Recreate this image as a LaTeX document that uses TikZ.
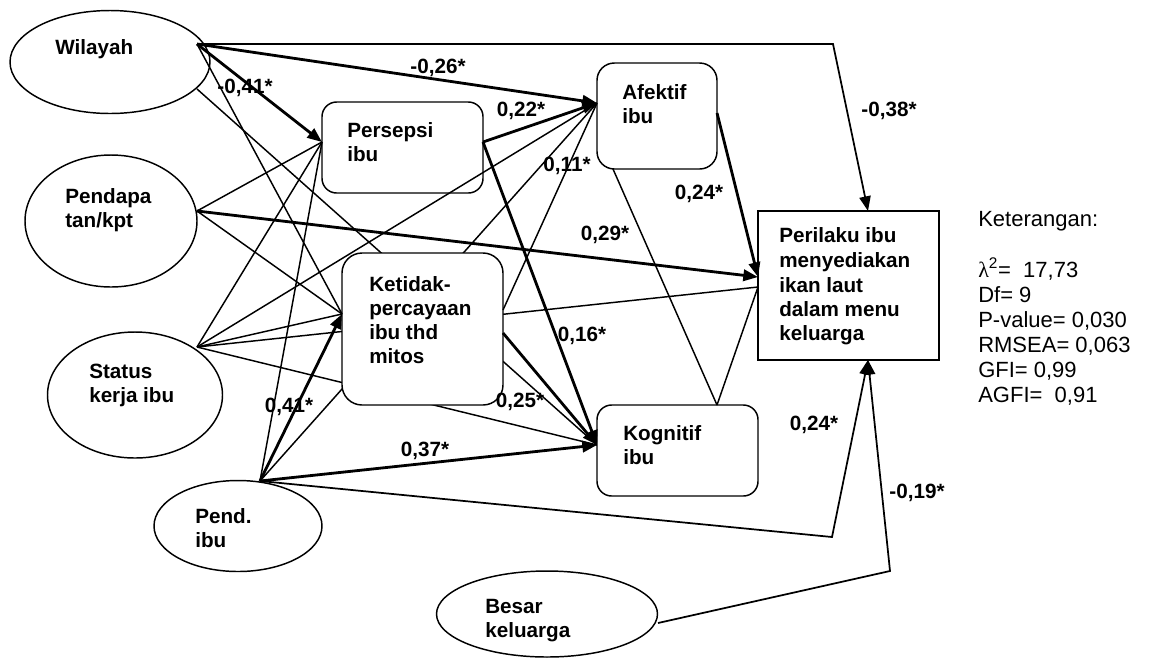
\documentclass[tikz,border=0pt]{standalone}
\usepackage{fontspec}
\setmainfont{Liberation Sans}
\newfontfamily\greekfont{Liberation Serif}
\usetikzlibrary{arrows.meta,shapes.geometric}
\pgfdeclarelayer{bg}
\pgfsetlayers{bg,main}
\begin{document}
\begin{tikzpicture}[x=0.75pt,y=-0.75pt,
  thinl/.style={line width=1.1pt},
  thickl/.style={line width=2.1pt,-{Triangle[length=11pt,width=8.5pt]}},
  medl/.style={line width=1.3pt,-{Triangle[length=11pt,width=8.5pt]}},
  ell/.style={ellipse,draw,line width=1.1pt,fill=white,inner sep=0pt,outer sep=0pt},
  rbox/.style={rectangle,draw,line width=1.1pt,fill=white,rounded corners=11pt,inner sep=0pt,outer sep=0pt},
  sbox/.style={rectangle,draw,line width=1.1pt,fill=white,inner sep=0pt,outer sep=0pt},
  txt/.style={anchor=base west,inner sep=0pt,font=\bfseries\fontsize{15.5}{18}\selectfont},
  lbl/.style={anchor=base,inner sep=0pt,font=\bfseries\fontsize{15.5}{18}\selectfont},
  keyt/.style={anchor=base west,inner sep=0pt,font=\fontsize{16.5}{20}\selectfont}]
\useasboundingbox (0,0) rectangle (1152,662);

% anchor points
\coordinate (wil-o) at (197,44);
\coordinate (wil-p) at (197,89);
\coordinate (pen-o) at (197,211);
\coordinate (sta-o) at (197,347);
\coordinate (edu-o) at (260,481);
\coordinate (bes-o) at (658,623);
\coordinate (per-i) at (322,142);
\coordinate (per-o) at (483,142);
\coordinate (afe-i) at (597,103);
\coordinate (afe-r) at (717,113);
\coordinate (afe-b) at (613,169);
\coordinate (ket-i) at (342,314);
\coordinate (ket-o) at (503,333);
\coordinate (ket-a) at (503,310);
\coordinate (kog-i) at (597,445);
\coordinate (kog-t) at (717,405);
\coordinate (pri-a) at (758,277);
\coordinate (pri-t) at (758,287);
\coordinate (pri-top) at (868,211);
\coordinate (pri-bot) at (868,360);
\coordinate (c1) at (833,44);
\coordinate (c2) at (832,537);
\coordinate (c3) at (890,571);

% shapes
\node[ell,minimum width=150pt,minimum height=77.25pt] (wil) at (110,62) {};
\node[ell,minimum width=129pt,minimum height=99pt] (pen) at (111,221) {};
\node[ell,minimum width=131.25pt,minimum height=94.5pt] (sta) at (135,395) {};
\node[ell,minimum width=126pt,minimum height=68.25pt] (edu) at (238,526) {};
\node[ell,minimum width=165.75pt,minimum height=64.5pt] (bes) at (547,614) {};
\node[rbox,minimum width=120.75pt,minimum height=68.25pt] (per) at (402.5,147.5) {};
\node[rbox,minimum width=90pt,minimum height=79.5pt,rounded corners=13pt] (afe) at (657,116) {};
\node[rbox,minimum width=120.75pt,minimum height=114pt,rounded corners=15pt] (ket) at (422.5,329) {};
\node[rbox,minimum width=120.75pt,minimum height=68.25pt] (kog) at (677.5,450.5) {};
\node[sbox,minimum width=135.75pt,minimum height=111.75pt] (pri) at (848.5,285.5) {};

% lines hidden behind the Ketidakpercayaan box
\begin{pgfonlayer}{bg}
\draw[thinl] (wil-p) -- (kog-i);
\draw[thinl] (sta-o) -- (pri-t);
\draw[thinl] (sta-o) -- (kog-i);
\draw[thinl] (edu-o) -- (afe-i);
\end{pgfonlayer}

% thin paths
\draw[thinl] (wil-o) -- (ket-i);
\draw[thinl] (pen-o) -- (per-i);
\draw[thinl] (pen-o) -- (ket-i);
\draw[thinl] (sta-o) -- (per-i);
\draw[thinl] (sta-o) -- (afe-i);
\draw[thinl] (sta-o) -- (ket-i);
\draw[thinl] (edu-o) -- (per-i);
\draw[thinl] (ket-a) -- (afe-i);
\draw[thinl] (afe-b) -- (kog-t);
\draw[thinl] (kog-t) -- (pri-t);

% significant paths
\draw[medl] (wil-o) -- (c1) -- (pri-top);
\draw[thickl] (wil-o) -- (afe-i);
\draw[thickl] (wil-o) -- (per-i);
\draw[thickl] (per-o) -- (afe-i);
\draw[thickl] (per-o) -- (kog-i);
\draw[thickl] (pen-o) -- (pri-a);
\draw[thickl] (afe-r) -- (pri-a);
\draw[thickl] (edu-o) -- (ket-i);
\draw[thickl] (edu-o) -- (kog-i);
\draw[thickl] (ket-o) -- (kog-i);
\draw[medl] (edu-o) -- (c2) -- (pri-bot);
\draw[medl] (bes-o) -- (c3) -- (pri-bot);

% node texts
\node[txt] (t-wil) at (55,54) {Wilayah};
\node[txt] (t-pen1) at (65,203) {Pendapa};
\node[txt] (t-pen2) at (65,227) {tan/kpt};
\node[txt] (t-sta1) at (89,378) {Status};
\node[txt] (t-sta2) at (89,402) {kerja ibu};
\node[txt] (t-edu1) at (195,523) {Pend.};
\node[txt] (t-edu2) at (195,547) {ibu};
\node[txt] (t-bes1) at (485,613) {Besar};
\node[txt] (t-bes2) at (485,637) {keluarga};
\node[txt] (t-per1) at (347,137) {Persepsi};
\node[txt] (t-per2) at (347,161) {ibu};
\node[txt] (t-afe1) at (622,99) {Afektif};
\node[txt] (t-afe2) at (622,123) {ibu};
\node[txt] (t-ket1) at (369,291) {Ketidak-};
\node[txt] (t-ket2) at (369,315) {percayaan};
\node[txt] (t-ket3) at (369,339) {ibu thd};
\node[txt] (t-ket4) at (369,363) {mitos};
\node[txt] (t-kog1) at (623,440) {Kognitif};
\node[txt] (t-kog2) at (623,464) {ibu};
\node[txt] (t-pri1) at (779,242) {Perilaku ibu};
\node[txt] (t-pri2) at (779,267) {menyediakan};
\node[txt] (t-pri3) at (779,292) {ikan laut};
\node[txt] (t-pri4) at (779,316) {dalam menu};
\node[txt] (t-pri5) at (779,340) {keluarga};

% coefficients
\node[lbl] (l1) at (438,73) {-0,26*};
\node[lbl] (l2) at (245,93) {-0,41*};
\node[lbl] (l3) at (521,116) {0,22*};
\node[lbl] (l4) at (567,171) {0,11*};
\node[lbl] (l5) at (699,199) {0,24*};
\node[lbl] (l6) at (889,116) {-0,38*};
\node[lbl] (l7) at (605,240) {0,29*};
\node[lbl] (l8) at (582,341) {0,16*};
\node[lbl] (l9) at (520,407) {0,25*};
\node[lbl] (l10) at (289,412) {0,41*};
\node[lbl] (l11) at (425,456) {0,37*};
\node[lbl] (l12) at (814,430) {0,24*};
\node[lbl] (l13) at (917,498) {-0,19*};

% legend
\node[keyt] (k0) at (978,226) {Keterangan:};
\node[keyt] (k1) at (978,277) {{\greekfont λ}\textsuperscript{2}=\ \ 17,73};
\node[keyt] (k2) at (978,302) {Df= 9};
\node[keyt] (k3) at (978,327) {P-value= 0,030};
\node[keyt] (k4) at (978,352) {RMSEA= 0,063};
\node[keyt] (k5) at (978,377) {GFI= 0,99};
\node[keyt] (k6) at (978,402) {AGFI=\ \ 0,91};
\end{tikzpicture}
\end{document}
